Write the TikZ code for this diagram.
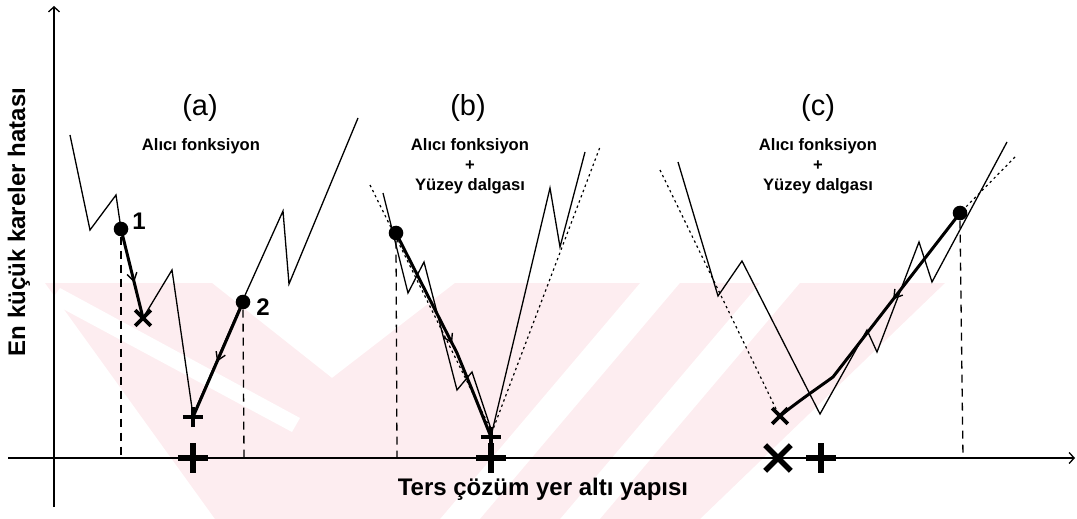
\documentclass[tikz,border=0pt]{standalone}
\usepackage{fontspec}
\setmainfont{Liberation Sans}
\usetikzlibrary{arrows.meta,decorations.markings,shapes.misc}
\definecolor{wm}{RGB}{253,237,240}
\tikzset{
  thinc/.style={line width=0.65pt, line join=miter},
  dotc/.style={line width=0.6pt, dash pattern=on 1.2pt off 1.6pt},
  dashc/.style={line width=0.65pt, dash pattern=on 4pt off 3pt},
  thickarr/.style={line width=1.5pt, line join=round, postaction=decorate,
    decoration={markings, mark=at position #1 with {\arrow{Straight Barb[length=4pt,width=5pt,line width=0.7pt]}}}},
  axisc/.style={line width=0.65pt},
  dotn/.style={circle, fill=black, inner sep=0pt, minimum size=7.3pt},
  smallx/.style={cross out, draw, line width=1.8pt, inner sep=0pt, minimum size=6pt},
  bigx/.style={cross out, draw, line width=2.8pt, inner sep=0pt, minimum size=10pt},
  smallp/.style={cross out, draw, rotate=45, line width=1.8pt, inner sep=0pt, minimum size=5.3pt},
  bigp/.style={cross out, draw, rotate=45, line width=2.8pt, inner sep=0pt, minimum size=7.8pt},
  ttl/.style={font=\fontsize{14.5}{16}\selectfont, inner sep=0pt},
  sub/.style={font=\bfseries\fontsize{8.3}{10}\selectfont, align=center, inner sep=0pt},
  num/.style={font=\bfseries\fontsize{12}{14}\selectfont, inner sep=0pt},
  axlbl/.style={font=\bfseries\fontsize{12}{14}\selectfont, inner sep=0pt},
}
\begin{document}
\begin{tikzpicture}[x=0.5pt,y=-0.5pt]
\useasboundingbox (0,0) rectangle (1077,519);
% watermark (faint)
\fill[wm] (45,283) -- (212,283) -- (332,378) -- (455,283) -- (640,283) -- (440,519) -- (215,519) -- cycle;
\fill[white] (50,302) -- (60,288) -- (300,418) -- (292,432) -- cycle;
\fill[wm] (680,283) -- (760,283) -- (560,519) -- (480,519) -- cycle;
\fill[wm] (800,283) -- (945,283) -- (700,519) -- (600,519) -- cycle;

% axes
\coordinate (yb) at (54,507);
\coordinate (yt) at (54,6);
\coordinate (xl) at (8,458);
\coordinate (xr) at (1075,458);
\draw[axisc,-{Straight Barb[length=2.5pt,width=5.5pt,line width=0.65pt]}] (yb) -- (yt);
\draw[axisc,-{Straight Barb[length=2.5pt,width=5.5pt,line width=0.65pt]}] (xl) -- (xr);

% titles
\node[ttl] (ta) at (200,108) {(a)};
\node[ttl] (tb) at (468,108) {(b)};
\node[ttl] (tc) at (818,108) {(c)};
\node[sub] (sa) at (201,146) {Alıcı fonksiyon};
\node[sub] (sb) at (470,166) {Alıcı fonksiyon\\+\\Yüzey dalgası};
\node[sub] (sc) at (818,166) {Alıcı fonksiyon\\+\\Yüzey dalgası};
\node[axlbl] (xlab) at (543,489) {Ters çözüm yer altı yapısı};
\node[axlbl, rotate=90] (ylab) at (19,222) {En küçük kareler hatası};

% ---------- panel (a)
\draw[thinc] (70,135) -- (90,230) -- (116,195) -- (121,229) -- (143,318) -- (172,270)
  -- (193,415) -- (242,302) -- (283,211) -- (289,284) -- (358,118);
\node[dotn] (p1) at (121,229) {};
\node[dotn] (p2) at (243,302) {};
\node[num] (n1) at (139,221) {1};
\node[num] (n2) at (263,307) {2};
\node[smallx] (x1) at (143,318) {};
\node[smallp] (m2) at (193,417) {};
\node[bigp] (ma) at (193,458) {};
\coordinate (d1) at (121,458);
\coordinate (d2) at (244,458);
\draw[dashc] (p1.south) -- (d1);
\draw[dashc] (p2.south) -- (d2);
\draw[thickarr=0.6] (p1.center) -- (x1.center);
\draw[thickarr=0.52] (p2.center) -- (m2.center);

% ---------- panel (b)
\draw[dotc] (370,185) -- (492,432) -- (600,147);
\draw[thinc] (383,193) -- (408,293) -- (424,262) -- (457,390) -- (472,372) -- (492,432)
  -- (550,188) -- (560,247) -- (585,152);
\node[dotn] (pb) at (396,233) {};
\node[smallp] (mb) at (491,437) {};
\node[bigp] (mbb) at (491,458) {};
\coordinate (db) at (397,458);
\draw[dashc] (pb.south) -- (db);
\draw[thickarr=0.55] (pb.center) -- (457,353) -- (473,392) -- (mb.center);

% ---------- panel (c)
\draw[dotc] (660,170) -- (778,413);
\draw[dotc] (1015,157) -- (960,213);
\draw[thinc] (678,162) -- (718,296) -- (742,261) -- (820,414) -- (867,330) -- (877,352)
  -- (919,242) -- (932,282) -- (1007,142);
\node[dotn] (pc) at (960,213) {};
\node[smallx] (xc) at (780,416) {};
\node[bigx] (mcx) at (778,458) {};
\node[bigp] (mcp) at (821,458) {};
\coordinate (dc) at (963,458);
\draw[dashc] (pc.south) -- (dc);
\draw[thickarr=0.4] (pc.center) -- (833,377) .. controls (815,390) and (800,400) .. (xc.center);
\end{tikzpicture}
\end{document}
